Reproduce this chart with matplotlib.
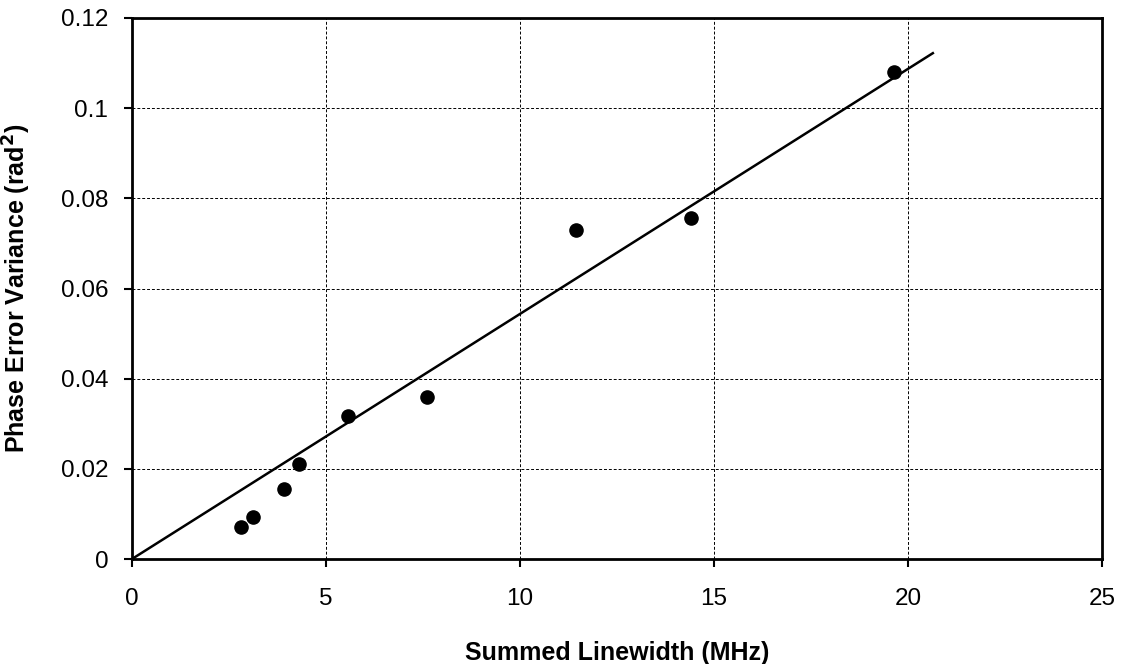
import matplotlib
matplotlib.use("Agg")
import matplotlib.pyplot as plt
import numpy as np

# measured points (summed linewidth in MHz, phase error variance in rad^2)
linewidth_mhz = [2.81, 3.12, 3.92, 4.30, 5.57, 7.60, 11.44, 14.41, 19.64]
variance_rad2 = [0.0071, 0.0093, 0.0155, 0.0211, 0.0317, 0.0359, 0.0729, 0.0756, 0.1080]

# linear fit through origin
fit_x = [0.0, 20.64]
fit_slope = 0.005436

x_ticks = [0, 5, 10, 15, 20, 25]
y_ticks = [0, 0.02, 0.04, 0.06, 0.08, 0.1, 0.12]
y_tick_labels = ["0", "0.02", "0.04", "0.06", "0.08", "0.1", "0.12"]

plt.rcParams["font.family"] = ["Liberation Sans", "DejaVu Sans"]

fig = plt.figure(figsize=(11.22, 6.64), dpi=100)
ax = fig.add_axes([0.1176, 0.1581, 0.8646, 0.8148])

ax.plot(fit_x, [fit_slope * v for v in fit_x], color="black", linewidth=1.8, zorder=3)
ax.scatter(linewidth_mhz, variance_rad2, s=90, color="black", zorder=4)

ax.set_xlim(0, 25)
ax.set_ylim(0, 0.12)
ax.set_xticks(x_ticks)
ax.set_yticks(y_ticks)
ax.set_yticklabels(y_tick_labels)
ax.tick_params(direction="out", length=6, width=1.5, labelsize=17.5)
ax.tick_params(axis="x", pad=15)
ax.tick_params(axis="y", pad=11)
ax.grid(True, color="black", linestyle=(0, (3, 2)), linewidth=0.7)
ax.set_axisbelow(True)
for side in ax.spines.values():
    side.set_linewidth(2)
    side.set_color("black")

ax.set_xlabel("Summed Linewidth (MHz)", fontsize=18, fontweight="bold", labelpad=22)
ax.set_ylabel("Phase Error Variance (rad$^\\mathbf{2}$)", fontsize=18, fontweight="bold", labelpad=20)

fig.savefig("out.png", dpi=100)
